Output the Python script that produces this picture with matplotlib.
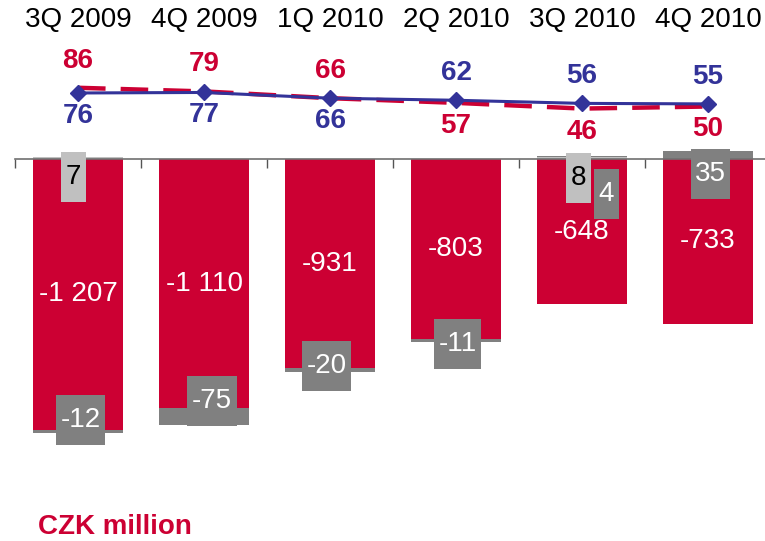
import numpy as np
import matplotlib.pyplot as plt
from matplotlib.path import Path

plt.rcParams['font.family'] = ['Liberation Sans', 'DejaVu Sans']

trimestres = ['3Q 2009', '4Q 2009', '1Q 2010', '2Q 2010', '3Q 2010', '4Q 2010']
principal = [-1207, -1110, -931, -803, -648, -733]
gris_claro = [7, 0, 0, 0, 8, 0]
gris_oscuro = [-12, -75, -20, -11, 4, 35]
linea_roja = [86, 79, 66, 57, 46, 50]
linea_azul = [76, 77, 66, 62, 56, 55]

ROJO = '#CC0033'
AZUL = '#333399'
OSCURO = '#808080'
CLARO = '#C0C0C0'

# desplazamientos de las etiquetas grises (pixeles, desde el centro del segmento)
desp_oscuro = [(2.5, -11), (8, -16), (-3.5, -4), (1.5, 3), (24.5, 37), (2.5, 19)]
desp_claro = [(-4.5, 19), None, None, None, (-3.5, 20), None]


def caja(x0, y0, width, height, mutation_size):
    # caja con poco margen horizontal y alto fijo
    padx = 0.16 * mutation_size
    alto = 1.8 * mutation_size
    cy = y0 + height / 2
    x1, x2 = x0 - padx, x0 + width + padx
    y1, y2 = cy - alto / 2, cy + alto / 2
    return Path([(x1, y1), (x2, y1), (x2, y2), (x1, y2), (x1, y1)], closed=True)


fig = plt.figure(figsize=(7.65, 5.41), dpi=100)
ax = fig.add_axes([15 / 765, 0, 756 / 765, 1])
x = np.arange(len(trimestres))
ancho = 0.72

ax.bar(x, principal, ancho, color=ROJO, zorder=2)
ax.bar(x, gris_claro, ancho, color=CLARO, zorder=2)
base_oscuro = [p if d < 0 else c for p, c, d in zip(principal, gris_claro, gris_oscuro)]
ax.bar(x, gris_oscuro, ancho, bottom=base_oscuro, color=OSCURO, zorder=2)

ax.set_xlim(-0.5, 5.5)
ax.set_ylim(-(541 - 159) / 0.2245, 159 / 0.2245)
for lado in ['top', 'left', 'right']:
    ax.spines[lado].set_visible(False)
ax.spines['bottom'].set_position(('data', 0))
ax.spines['bottom'].set_color('#707070')
ax.spines['bottom'].set_linewidth(1.2)
ax.spines['bottom'].set_zorder(3)
ax.set_xticks(np.arange(-0.5, 6, 1))
ax.set_xticklabels([])
ax.tick_params(axis='x', direction='out', length=6.5, width=1, color='#555555')
ax.set_yticks([])

for i, v in enumerate(principal):
    ax.text(i, v / 2, f'{v:,}'.replace(',', ' '), color='white', fontsize=20,
            ha='center', va='center', zorder=4)

for i, d in enumerate(gris_oscuro):
    base = base_oscuro[i]
    dx, dy = desp_oscuro[i]
    ax.annotate(str(d), (i, base + d / 2), xytext=(dx, -dy), textcoords='offset pixels',
                color='white', fontsize=20, ha='center', va='center', zorder=5,
                bbox=dict(boxstyle=caja, fc=OSCURO, ec='none'))

for i, c in enumerate(gris_claro):
    if desp_claro[i] is None:
        continue
    dx, dy = desp_claro[i]
    ax.annotate(str(c), (i, c / 2), xytext=(dx, -dy), textcoords='offset pixels',
                color='black', fontsize=20, ha='center', va='center', zorder=5,
                bbox=dict(boxstyle=caja, fc=CLARO, ec='none'))

for i, t in enumerate(trimestres):
    ax.text(i, 1 - 20 / 541, t, transform=ax.get_xaxis_transform(), fontsize=20,
            ha='center', va='center', color='black')

ax2 = ax.twinx()
ax2.set_ylim(-(541 - 132.5) / 0.52, 132.5 / 0.52)
ax2.axis('off')
ax2.plot(x, linea_roja, color=ROJO, lw=3.2, dashes=(6.2, 3.4), zorder=2)
ax2.plot(x, linea_azul, color=AZUL, lw=2.2, marker='D', markersize=8, zorder=3)

for i in range(len(x)):
    roja_arriba = linea_roja[i] >= linea_azul[i]
    for v, col, arriba in [(linea_roja[i], ROJO, roja_arriba), (linea_azul[i], AZUL, not roja_arriba)]:
        oy = 27 if arriba else -23
        ax2.annotate(str(v), (i, v), xytext=(0, oy), textcoords='offset pixels',
                     color=col, fontsize=20, fontweight='bold', ha='center', va='center')

fig.text(38 / 765, 1 - 527 / 541, 'CZK million', color=ROJO, fontsize=20,
         fontweight='bold', ha='left', va='center')

plt.savefig('out.png', dpi=100)
